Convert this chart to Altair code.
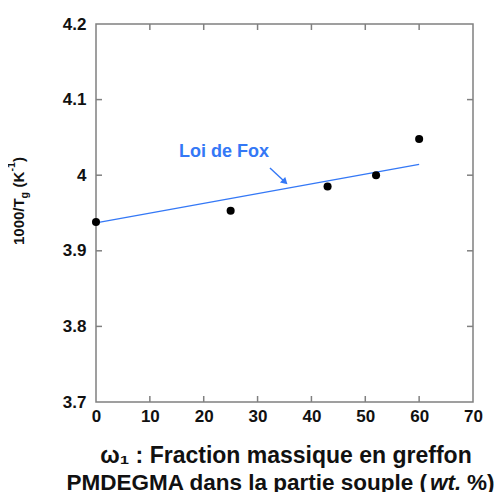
import altair as alt
import pandas as pd

# ---- data ----
x_frac = [0, 25, 43, 52, 60]
inv_tg = [3.938, 3.953, 3.985, 4.000, 4.048]
fox_x = [0, 60]
fox_y = [3.937, 4.0144]
x_tick_vals = [10, 20, 30, 40, 50, 60]
y_tick_vals = [3.8, 3.9, 4.0, 4.1]
x_axis_vals = [0, 10, 20, 30, 40, 50, 60, 70]
y_axis_vals = [3.7, 3.8, 3.9, 4.0, 4.1, 4.2]
fox_label = ["Loi de Fox"]
fox_label_pos = [15.4, 4.0307]
arrow_from = [32.3, 4.0095]
arrow_to = [35.1, 3.991]
xtitle_1 = ["ω₁ : Fraction massique en greffon"]
xtitle_2a = ["PMDEGMA dans la partie souple ("]
xtitle_2b = ["wt."]
xtitle_2c = ["%)"]
ytitle_parts = ["1000/T", "g", "(K", "-1", ")"]

W, H = 377, 378
FONT = "Liberation Sans, Arial, DejaVu Sans"
GRAY = "#808080"
BLUE = "#3478f6"
TXT = "#111111"

xs = alt.Scale(domain=[0, 70], nice=False, zero=False)
ys = alt.Scale(domain=[3.7, 4.2], nice=False, zero=False)

pts = pd.DataFrame({"x": x_frac, "y": inv_tg})
fox = pd.DataFrame({"x": fox_x, "y": fox_y})

axis_common = dict(
    title=None, grid=False, domain=False, ticks=False, labelFont=FONT,
    labelFontSize=17, labelFontWeight="bold", labelColor=TXT,
    labelFlush=False, labelOverlap=False, format="~g",
)

points = alt.Chart(pts).mark_point(
    filled=True, color="black", size=65, opacity=1
).encode(
    x=alt.X("x:Q", scale=xs, axis=alt.Axis(values=x_axis_vals, labelPadding=6, **axis_common)),
    y=alt.Y("y:Q", scale=ys, axis=alt.Axis(values=y_axis_vals, labelPadding=10, **axis_common)),
)

fox_line = alt.Chart(fox).mark_line(color=BLUE, strokeWidth=1.4).encode(
    x=alt.X("x:Q", scale=xs), y=alt.Y("y:Q", scale=ys)
)

lab = alt.Chart(pd.DataFrame({"x": [fox_label_pos[0]], "y": [fox_label_pos[1]], "t": fox_label})).mark_text(
    align="left", baseline="middle", font=FONT, fontSize=18, fontWeight="bold", color=BLUE
).encode(x=alt.X("x:Q", scale=xs), y=alt.Y("y:Q", scale=ys), text="t:N")

arr = pd.DataFrame({"x": [arrow_from[0]], "y": [arrow_from[1]], "x2": [arrow_to[0]], "y2": [arrow_to[1]]})
arrow_shaft = alt.Chart(arr).mark_rule(color=BLUE, strokeWidth=1.4).encode(
    x=alt.X("x:Q", scale=xs), y=alt.Y("y:Q", scale=ys), x2="x2:Q", y2="y2:Q"
)
arrow_head = alt.Chart(arr).mark_point(
    shape="triangle-right", filled=True, color=BLUE, size=60, angle=43, opacity=1
).encode(x=alt.X("x2:Q", scale=xs), y=alt.Y("y2:Q", scale=ys))

# inward ticks on all four sides
xt = pd.DataFrame({"x": x_tick_vals})
yt = pd.DataFrame({"y": y_tick_vals})
TL = 6
tick_b = alt.Chart(xt).mark_rule(color=GRAY, strokeWidth=1.5).encode(
    x=alt.X("x:Q", scale=xs), y=alt.value(H), y2=alt.value(H - TL))
tick_t = alt.Chart(xt).mark_rule(color=GRAY, strokeWidth=1.5).encode(
    x=alt.X("x:Q", scale=xs), y=alt.value(0), y2=alt.value(TL))
tick_l = alt.Chart(yt).mark_rule(color=GRAY, strokeWidth=1.5).encode(
    y=alt.Y("y:Q", scale=ys), x=alt.value(0), x2=alt.value(TL))
tick_r = alt.Chart(yt).mark_rule(color=GRAY, strokeWidth=1.5).encode(
    y=alt.Y("y:Q", scale=ys), x=alt.value(W), x2=alt.value(W - TL))

def ptext(txt, x, y, size, style="normal", align="center", angle=0, baseline="alphabetic"):
    return alt.Chart(pd.DataFrame({"t": [txt]})).mark_text(
        align=align, baseline=baseline, font=FONT, fontSize=size, fontWeight="bold",
        fontStyle=style, color=TXT, angle=angle
    ).encode(x=alt.value(x), y=alt.value(y), text="t:N")

titles = [
    ptext(xtitle_1[0], 190, 439, 23),
    ptext(xtitle_2a[0], 331, 466, 22.5, align="right"),
    ptext(xtitle_2b[0], 334, 466, 22.5, style="italic", align="left"),
    ptext(xtitle_2c[0], 371, 466, 22.5, align="left"),
    ptext(ytitle_parts[0], -72.5, 221, 15, align="left", angle=270),
    ptext(ytitle_parts[1], -68.5, 174.5, 10.5, align="left", angle=270),
    ptext(ytitle_parts[2], -72.5, 163.5, 15, align="left", angle=270),
    ptext(ytitle_parts[3], -81, 147.5, 10.5, align="left", angle=270),
    ptext(ytitle_parts[4], -72.5, 138, 15, align="left", angle=270),
]

chart = alt.layer(
    fox_line, arrow_shaft, arrow_head, lab, points,
    tick_b, tick_t, tick_l, tick_r, *titles
).properties(
    width=W, height=H,
    autosize=alt.AutoSizeParams(type="none"),
    padding={"left": 88, "top": 16, "right": 22, "bottom": 90},
).configure_view(stroke=GRAY, strokeWidth=1.5)

chart.save("out.html", embed_options={"renderer": "svg", "actions": False})
